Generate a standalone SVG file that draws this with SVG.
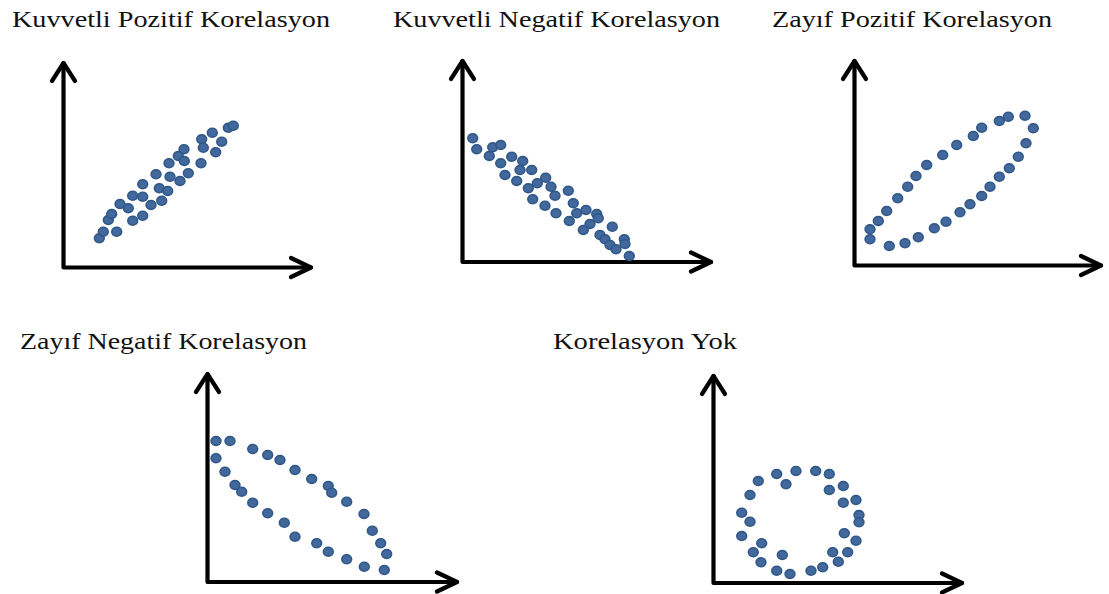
<svg xmlns="http://www.w3.org/2000/svg" width="1109" height="594" viewBox="0 0 1109 594">
<style>
.t{font-family:"Liberation Serif","Times New Roman",serif;font-size:24px;fill:#111}
.ax{fill:none;stroke:#000;stroke-width:4.2;stroke-linecap:round;stroke-linejoin:round}
.d{fill:#43699C;stroke:#31588A;stroke-width:1.6}
</style>
<defs>
<ellipse id="p" cx="0" cy="0" rx="4.9" ry="4.4" class="d"/>
</defs>
<rect width="1109" height="594" fill="#fff"/>

<g id="panel1">
<text class="t" x="12" y="27" textLength="318" lengthAdjust="spacingAndGlyphs">Kuvvetli Pozitif Korelasyon</text>
<path class="ax" d="M63.5,63 L63.5,267.5 L311,267.5"/>
<path class="ax" d="M52,81 L63.5,63 L75,81"/>
<path class="ax" d="M291,258 L311,267.5 L291,277"/>
<g>
<use href="#p" x="99.3" y="238.3"/><use href="#p" x="103.3" y="231.7"/><use href="#p" x="116.7" y="231.7"/>
<use href="#p" x="108.3" y="220"/><use href="#p" x="111.7" y="214"/><use href="#p" x="120" y="204"/>
<use href="#p" x="128.3" y="208.3"/><use href="#p" x="132.7" y="220.7"/><use href="#p" x="142.7" y="215.7"/>
<use href="#p" x="132.7" y="195.7"/><use href="#p" x="142.7" y="196.7"/><use href="#p" x="142.7" y="184.3"/>
<use href="#p" x="151" y="205"/><use href="#p" x="161.7" y="200.7"/><use href="#p" x="159.3" y="188.3"/>
<use href="#p" x="167.7" y="191"/><use href="#p" x="156" y="174.3"/><use href="#p" x="170" y="176.7"/>
<use href="#p" x="180" y="181"/><use href="#p" x="188.3" y="173.3"/><use href="#p" x="169" y="163.3"/>
<use href="#p" x="178.3" y="156"/><use href="#p" x="184" y="149.3"/><use href="#p" x="184.3" y="161"/>
<use href="#p" x="201" y="163.3"/><use href="#p" x="201.7" y="139.3"/><use href="#p" x="203.3" y="147.7"/>
<use href="#p" x="212.3" y="132.7"/><use href="#p" x="215.7" y="152.3"/><use href="#p" x="221.7" y="141.7"/>
<use href="#p" x="228.3" y="127.7"/><use href="#p" x="233.3" y="125.7"/>
</g>
</g>

<g id="panel2">
<text class="t" x="393" y="27" textLength="327" lengthAdjust="spacingAndGlyphs">Kuvvetli Negatif Korelasyon</text>
<path class="ax" d="M462.5,61 L462.5,262 L711,262"/>
<path class="ax" d="M451,79 L462.5,61 L474,79"/>
<path class="ax" d="M691,252.5 L711,262 L691,271.5"/>
<g>
<use href="#p" x="472.7" y="138.3"/><use href="#p" x="476.7" y="149.3"/><use href="#p" x="489.3" y="156"/>
<use href="#p" x="492.7" y="147.3"/><use href="#p" x="500.7" y="145"/><use href="#p" x="500.7" y="163.3"/>
<use href="#p" x="511.7" y="156.7"/><use href="#p" x="522.7" y="161"/><use href="#p" x="520" y="170"/>
<use href="#p" x="531.7" y="170"/><use href="#p" x="505" y="175"/><use href="#p" x="516.7" y="181"/>
<use href="#p" x="528.3" y="188.3"/><use href="#p" x="537.3" y="183.3"/><use href="#p" x="545.7" y="177.7"/>
<use href="#p" x="551" y="186.7"/><use href="#p" x="555" y="195.7"/><use href="#p" x="532.7" y="199.3"/>
<use href="#p" x="545" y="205.7"/><use href="#p" x="556" y="213.3"/><use href="#p" x="568.3" y="190.7"/>
<use href="#p" x="573.3" y="203.3"/><use href="#p" x="576.7" y="213.3"/><use href="#p" x="569.3" y="221"/>
<use href="#p" x="586" y="210"/><use href="#p" x="596.7" y="214"/><use href="#p" x="598.3" y="218.3"/>
<use href="#p" x="590" y="224"/><use href="#p" x="583.3" y="230"/><use href="#p" x="612.3" y="226.7"/>
<use href="#p" x="600" y="235"/><use href="#p" x="605" y="239.3"/><use href="#p" x="610" y="245"/>
<use href="#p" x="616" y="249.3"/><use href="#p" x="624.3" y="239.3"/><use href="#p" x="625" y="244"/>
<use href="#p" x="629.3" y="256"/>
</g>
</g>

<g id="panel3">
<text class="t" x="772" y="27" textLength="280" lengthAdjust="spacingAndGlyphs">Zayıf Pozitif Korelasyon</text>
<path class="ax" d="M854.5,61 L854.5,265.5 L1101,265.5"/>
<path class="ax" d="M843,79 L854.5,61 L866,79"/>
<path class="ax" d="M1081,256 L1101,265.5 L1081,275"/>
<g>
<use href="#p" x="870" y="229.3"/><use href="#p" x="870" y="239.3"/><use href="#p" x="878.3" y="221"/>
<use href="#p" x="886.7" y="211"/><use href="#p" x="897.7" y="198.3"/><use href="#p" x="907.7" y="186.7"/>
<use href="#p" x="916" y="176"/><use href="#p" x="926.7" y="165"/><use href="#p" x="942.7" y="155"/>
<use href="#p" x="956.7" y="145"/><use href="#p" x="973.3" y="136"/><use href="#p" x="981.7" y="127.7"/>
<use href="#p" x="999.3" y="121"/><use href="#p" x="1008.3" y="116.7"/><use href="#p" x="1025" y="115.7"/>
<use href="#p" x="1033.3" y="128.3"/><use href="#p" x="1026" y="143.3"/><use href="#p" x="1018.3" y="156.7"/>
<use href="#p" x="1009.3" y="168.3"/><use href="#p" x="999.3" y="176.7"/><use href="#p" x="990" y="186.7"/>
<use href="#p" x="981.7" y="196"/><use href="#p" x="970" y="204.3"/><use href="#p" x="960" y="212.3"/>
<use href="#p" x="946" y="221.7"/><use href="#p" x="934.3" y="228.3"/><use href="#p" x="918.3" y="237.3"/>
<use href="#p" x="905" y="243.3"/><use href="#p" x="889.3" y="246"/>
</g>
</g>

<g id="panel4">
<text class="t" x="20" y="349" textLength="287" lengthAdjust="spacingAndGlyphs">Zayıf Negatif Korelasyon</text>
<path class="ax" d="M207.5,374 L207.5,582 L457,582"/>
<path class="ax" d="M196,392 L207.5,374 L219,392"/>
<path class="ax" d="M437,572.5 L457,582 L437,591.5"/>
<g>
<use href="#p" x="216" y="441"/><use href="#p" x="230" y="441"/><use href="#p" x="216" y="458.3"/>
<use href="#p" x="225" y="471.7"/><use href="#p" x="235" y="485"/><use href="#p" x="241.7" y="491.7"/>
<use href="#p" x="252.7" y="502.7"/><use href="#p" x="267.7" y="513.3"/><use href="#p" x="284.3" y="522.7"/>
<use href="#p" x="295" y="536.7"/><use href="#p" x="316.7" y="543.3"/><use href="#p" x="328.3" y="551.7"/>
<use href="#p" x="346.7" y="559.3"/><use href="#p" x="364.3" y="566.7"/><use href="#p" x="384.3" y="570"/>
<use href="#p" x="252.7" y="449"/><use href="#p" x="267.7" y="455"/><use href="#p" x="280" y="460"/>
<use href="#p" x="295" y="470"/><use href="#p" x="311.7" y="479"/><use href="#p" x="328.3" y="486"/>
<use href="#p" x="331.7" y="492.7"/><use href="#p" x="346.7" y="501.7"/><use href="#p" x="364" y="514"/>
<use href="#p" x="372.3" y="530.7"/><use href="#p" x="380.7" y="543.3"/><use href="#p" x="386.7" y="554"/>
</g>
</g>

<g id="panel5">
<text class="t" x="553" y="349" textLength="184" lengthAdjust="spacingAndGlyphs">Korelasyon Yok</text>
<path class="ax" d="M713.5,376 L713.5,583 L962,583"/>
<path class="ax" d="M702,394 L713.5,376 L725,394"/>
<path class="ax" d="M942,573.5 L962,583 L942,592.5"/>
<g>
<use href="#p" x="758.3" y="481"/><use href="#p" x="776.7" y="474"/><use href="#p" x="796" y="471"/>
<use href="#p" x="815.7" y="471"/><use href="#p" x="829.3" y="474"/><use href="#p" x="786" y="484.3"/>
<use href="#p" x="829.3" y="490"/><use href="#p" x="843.3" y="486"/><use href="#p" x="750" y="495"/>
<use href="#p" x="843.3" y="502.7"/><use href="#p" x="856" y="500"/><use href="#p" x="741.7" y="512.7"/>
<use href="#p" x="750" y="521.7"/><use href="#p" x="859" y="515"/><use href="#p" x="859" y="522.3"/>
<use href="#p" x="741.7" y="536"/><use href="#p" x="844.3" y="533.3"/><use href="#p" x="856" y="540.7"/>
<use href="#p" x="761.7" y="543.3"/><use href="#p" x="753.3" y="552.3"/><use href="#p" x="782.3" y="555"/>
<use href="#p" x="832.7" y="552.3"/><use href="#p" x="847.7" y="552.3"/><use href="#p" x="838.3" y="561.7"/>
<use href="#p" x="761" y="562.3"/><use href="#p" x="776.7" y="570.7"/><use href="#p" x="790" y="574"/>
<use href="#p" x="811" y="570.7"/><use href="#p" x="822.7" y="567.3"/>
</g>
</g>
</svg>
